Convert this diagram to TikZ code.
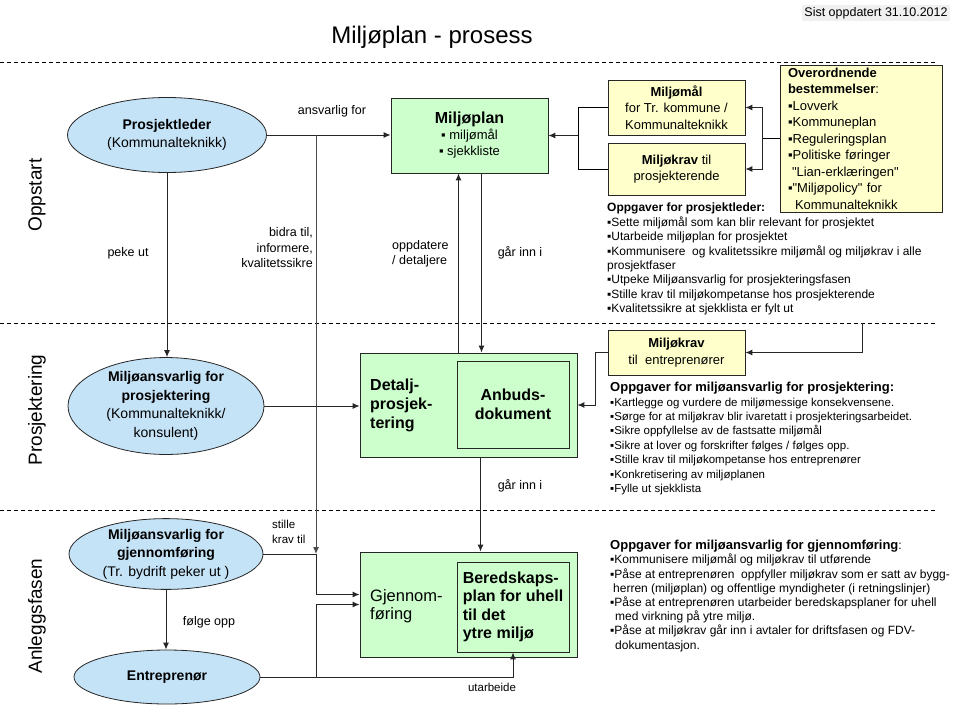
\documentclass[tikz,border=0pt]{standalone}
\usepackage{fontspec}
\setmainfont{Liberation Sans}
\newfontfamily\plainqfont{Liberation Sans}
\usepackage{tikz}
\usetikzlibrary{shapes.geometric, arrows.meta}

\definecolor{roleblue}{RGB}{197,227,247}
\definecolor{plangreen}{RGB}{204,255,204}
\definecolor{noteyellow}{RGB}{255,255,204}
\newcommand{\setfs}[2]{\fontsize{#1}{#2}\selectfont}
\newcommand{\straightq}{{\plainqfont"}}

\tikzset{
  role/.style={ellipse, draw=black!85, fill=roleblue, line width=0.8pt, inner sep=0pt, align=center, font=\setfs{14}{18.5}},
  plan/.style={draw=black!85, fill=plangreen, line width=0.8pt, inner sep=0pt},
  note/.style={draw=black!85, fill=noteyellow, line width=0.8pt, inner sep=0pt, align=center, font=\setfs{13}{16.5}},
  tasks/.style={anchor=north west, inner sep=0pt, align=left, font=\setfs{12}{14.4}},
  lbl/.style={inner sep=0pt, font=\setfs{12.5}{15.5}},
  link/.style={draw=black!85, line width=1pt, -{Latex[length=7pt,width=6pt]}},
  phase/.style={rotate=90, font=\setfs{19}{22}},
  sep/.style={line width=0.8pt, dash pattern=on 4pt off 3pt}
}

\begin{document}
\begin{tikzpicture}[x=1pt, y=-1pt]
    \useasboundingbox (0,0) rectangle (960,720);

    % Title and date
    \node[font=\setfs{24}{28}] (title) at (432,37) {Miljøplan - prosess};
    \node[fill=gray!12, inner sep=2pt, font=\setfs{12.5}{14}] (dato) at (876,13) {Sist oppdatert 31.10.2012};

    % Phase separators and phase names
    \foreach \y in {62,323,510}
        \draw[sep] (0,\y) -- (937,\y);
    \node[phase] (oppstart) at (37,195) {Oppstart};
    \node[phase] (prosjfase) at (37,410) {Prosjektering};
    \node[phase] (anlegg) at (37,616) {Anleggsfasen};

    % Roles
    \node[role, minimum width=199pt, minimum height=75pt] (leder) at (167,135) {\textbf{Prosjektleder}\\(Kommunalteknikk)};
    \node[role, minimum width=196pt, minimum height=78pt] (ansvP) at (166,406) {\textbf{Miljøansvarlig for}\\\textbf{prosjektering}\\(Kommunalteknikk/\\konsulent)};
    \node[role, minimum width=194pt, minimum height=68pt] (ansvG) at (166,554) {\textbf{Miljøansvarlig for}\\\textbf{gjennomføring}\\(Tr. bydrift peker ut )};
    \node[role, minimum width=186pt, minimum height=54pt] (entr) at (167,677) {\textbf{Entreprenør}};

    % Plan documents
    \node[plan, minimum width=157pt, minimum height=75pt, align=center, font=\setfs{13}{16}] (plan) at (469.5,135.5) {{\setfs{16}{19}\bfseries Miljøplan}\\▪ miljømål\\▪ sjekkliste};
    \node[plan, minimum width=217pt, minimum height=104pt] (detalj) at (468.5,405) {};
    \node[plan, minimum width=112pt, minimum height=87pt, align=center, font=\setfs{16}{19}\bfseries] (anbud) at (513,404.5) {Anbuds-\\dokument};
    \node[anchor=west, inner sep=0pt, align=left, font=\setfs{16}{19}\bfseries] (detaljtxt) at (370,405) {Detalj-\\prosjek-\\tering};
    \node[plan, minimum width=217pt, minimum height=105pt] (gjennom) at (468.5,604.5) {};
    \node[plan, minimum width=112pt, minimum height=90pt, align=left, font=\setfs{16}{18.5}\bfseries] (bered) at (513,607) {Beredskaps-\\plan for uhell\\til det\\ytre miljø};
    \node[anchor=west, inner sep=0pt, align=left, font=\setfs{16.5}{18.5}] (gjennomtxt) at (370,606) {Gjennom-\\føring};

    % Requirements
    \node[note, minimum width=137pt, minimum height=55pt] (maal) at (676.5,107.5) {\textbf{Miljømål}\\for Tr. kommune /\\Kommunalteknikk};
    \node[note, minimum width=137pt, minimum height=52pt] (kravP) at (676.5,169) {\textbf{Miljøkrav} til\\prosjekterende};
    \node[note, minimum width=137pt, minimum height=45pt] (kravE) at (676.5,352.5) {\textbf{Miljøkrav}\\til\ \ entreprenører};
    \node[note, minimum height=147pt, text width=146pt, inner xsep=8pt, align=left] (overord) at (861,138.5) {\textbf{Overordnende}\\\textbf{bestemmelser}:\\▪Lovverk\\▪Kommuneplan\\▪Reguleringsplan\\▪Politiske føringer\\\hspace*{4pt}\straightq Lian-erklæringen\straightq\\▪\straightq Miljøpolicy\straightq{} for\\\hspace*{7pt}Kommunalteknikk};

    % Task lists
    \node[tasks] (oppgL) at (607,203) {\textbf{Oppgaver for prosjektleder:}\\
        ▪Sette miljømål som kan blir relevant for prosjektet\\
        ▪Utarbeide miljøplan for prosjektet\\
        ▪Kommunisere\ \ og kvalitetssikre miljømål og miljøkrav i alle\\
        prosjektfaser\\
        ▪Utpeke Miljøansvarlig for prosjekteringsfasen\\
        ▪Stille krav til miljøkompetanse hos prosjekterende\\
        ▪Kvalitetssikre at sjekklista er fylt ut};
    \node[tasks, font=\setfs{11.5}{14.4}] (oppgP) at (610,382) {{\setfs{13}{15}\bfseries Oppgaver for miljøansvarlig for prosjektering:}\\
        ▪Kartlegge og vurdere de miljømessige konsekvensene.\\
        ▪Sørge for at miljøkrav blir ivaretatt i prosjekteringsarbeidet.\\
        ▪Sikre oppfyllelse av de fastsatte miljømål\\
        ▪Sikre at lover og forskrifter følges / følges opp.\\
        ▪Stille krav til miljøkompetanse hos entreprenører\\
        ▪Konkretisering av miljøplanen\\
        ▪Fylle ut sjekklista};
    \node[tasks, font=\setfs{12}{14.2}] (oppgG) at (610,540) {{\setfs{13}{14.5}\bfseries Oppgaver for miljøansvarlig for gjennomføring}:\\
        ▪Kommunisere miljømål og miljøkrav til utførende\\
        ▪Påse at entreprenøren\ \ oppfyller miljøkrav som er satt av bygg-\\
        \hspace*{3pt}herren (miljøplan) og offentlige myndigheter (i retningslinjer)\\
        ▪Påse at entreprenøren utarbeider beredskapsplaner for uhell\\
        \hspace*{5pt}med virkning på ytre miljø.\\
        ▪Påse at miljøkrav går inn i avtaler for driftsfasen og FDV-\\
        \hspace*{5pt}dokumentasjon.};

    % Junctions
    \coordinate (bidra) at (316,135);
    \coordinate (split) at ([xshift=-17pt]overord.west);
    \coordinate (merge) at ([xshift=30pt]plan.east);
    \coordinate (fraL) at (862,323);

    % Oppstart connectors
    \draw[link] (leder.east) -- (leder.east -| plan.west);
    \node[lbl] (lblAnsv) at (332,111) {ansvarlig for};
    \draw[link] (leder.south) -- (leder.south |- ansvP.north);
    \node[lbl] (lblPeke) at (128,253) {peke ut};
    \draw[link, draw=gray!60!black] (bidra) -- (bidra |- ansvG.east);
    \node[lbl, anchor=east, align=right] (lblBidra) at (313,248) {bidra til,\\informere,\\kvalitetssikre};
    \draw (overord.west) -- (split);
    \draw[link] (split) |- (maal.east);
    \draw[link] (split) |- (kravP.east);
    \draw (maal.west) -| (merge);
    \draw (kravP.west) -| (merge);
    \draw[link] (merge) -- (plan.east);
    \draw[link] ([xshift=-10pt]detalj.north) -- ([xshift=-10pt]detalj.north |- plan.south);
    \node[lbl, anchor=west, align=left] (lblOppd) at (392,254) {oppdatere\\/ detaljere};
    \draw[link] ([xshift=12pt]plan.south) -- ([xshift=12pt]plan.south |- detalj.north);
    \node[lbl] (lblInn) at (520,253) {går inn i};

    % Prosjektering connectors
    \draw[link] (ansvP.east) -- (ansvP.east -| detalj.west);
    \draw[link] (fraL) |- (kravE.east);
    \draw[link] (kravE.west) -| ([xshift=18pt]detalj.east) -- (detalj.east);
    \draw[link] ([xshift=12pt]detalj.south) -- ([xshift=12pt]detalj.south |- gjennom.north);
    \node[lbl] (lblInn2) at (520,486) {går inn i};

    % Anleggsfasen connectors
    \draw[link] (ansvG.east) -- (bidra |- ansvG.east) |- ([yshift=10pt]gjennom.west);
    \node[lbl, anchor=west, align=left, font=\setfs{11.5}{15}] (lblStille) at (272,532) {stille\\krav til};
    \draw[link] (ansvG.south) -- (ansvG.south |- entr.north);
    \node[lbl] (lblFolge) at (209,622) {følge opp};
    \draw[link] (entr.east) -- (bidra |- entr.east) |- (gjennom.west);
    \draw[link] (entr.east) -| (bered.south);
    \node[lbl, font=\setfs{11.5}{14}] (lblUtarb) at (492,687) {utarbeide};

\end{tikzpicture}
\end{document}
